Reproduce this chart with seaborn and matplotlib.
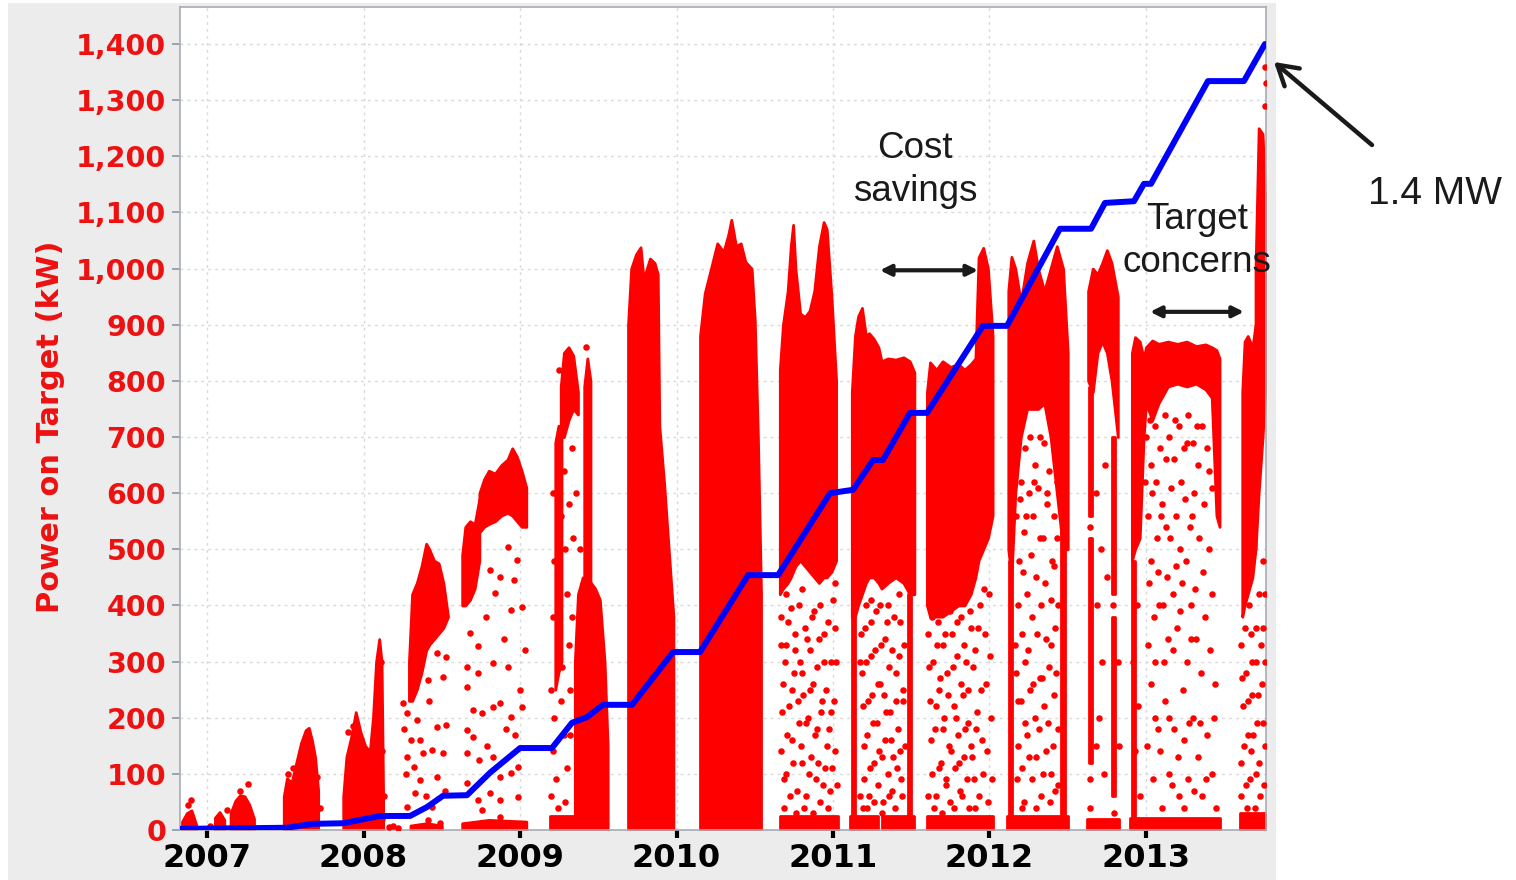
import numpy as np
import pandas as pd
import seaborn as sns
import matplotlib
matplotlib.use("Agg")
import matplotlib.pyplot as plt
from matplotlib.patches import Rectangle

sns.set_theme(style="white")
plt.rcParams["font.family"] = ["DejaVu Sans"]

# --- delivered power (blue line), years / kW ---
line_year = [2006.827, 2007.511, 2007.677, 2007.869, 2007.978, 2008.105, 2008.297, 2008.406,
             2008.508, 2008.661, 2008.808, 2009.000, 2009.204, 2009.332, 2009.428, 2009.530,
             2009.716, 2009.978, 2010.150, 2010.457, 2010.649, 2010.981, 2011.128, 2011.256,
             2011.319, 2011.492, 2011.601, 2011.958, 2012.112, 2012.450, 2012.649, 2012.738,
             2012.923, 2012.987, 2013.032, 2013.396, 2013.626, 2013.760]
line_kw = [2, 4, 11, 12, 18, 25, 25, 41, 61, 62, 102, 146, 146, 191, 201, 223, 223, 317, 317,
           454, 454, 600, 606, 659, 659, 743, 743, 898, 898, 1071, 1071, 1117, 1120, 1151, 1151,
           1334, 1334, 1400]

# --- dense parts of the power-on-target record: (years, lower kW, upper kW) ---
band_2007a = ([2006.84, 2006.87, 2006.90, 2006.93], [0, 0, 0, 0], [15, 30, 35, 10])
band_2007b = ([2007.05, 2007.08, 2007.11], [0, 0, 0], [22, 32, 18])
band_2007c = ([2007.15, 2007.18, 2007.21, 2007.24, 2007.27, 2007.30], [0, 0, 0, 0, 0, 0],
              [30, 52, 62, 60, 45, 20])
band_2007d = ([2007.49, 2007.51, 2007.54, 2007.57, 2007.60, 2007.63, 2007.65, 2007.67, 2007.69, 2007.71],
              [0, 0, 0, 0, 0, 0, 0, 0, 0, 0], [60, 92, 85, 120, 155, 178, 182, 160, 130, 70])
band_2008a = ([2007.87, 2007.89, 2007.92, 2007.95, 2007.98, 2008.01, 2008.04, 2008.06, 2008.08, 2008.10, 2008.115, 2008.125],
              [0, 0, 0, 0, 0, 0, 0, 0, 0, 0, 0, 0], [60, 130, 165, 210, 175, 150, 140, 200, 300, 340, 300, 60])
band_2008b = ([2008.29, 2008.31, 2008.34, 2008.37, 2008.40, 2008.42, 2008.45, 2008.48, 2008.51, 2008.54],
              [230, 230, 250, 280, 320, 330, 340, 350, 360, 380], [300, 420, 440, 470, 510, 500, 480, 475, 440, 380])
band_2008c = ([2008.30, 2008.40, 2008.50], [0, 0, 0], [8, 12, 8])
band_2008d = ([2008.63, 2008.65, 2008.68, 2008.71, 2008.74], [400, 400, 410, 430, 480], [490, 540, 550, 545, 590])
band_2008e = ([2008.74, 2008.77, 2008.80, 2008.84, 2008.88, 2008.92, 2008.95, 2008.98, 2009.01, 2009.04],
              [530, 540, 545, 550, 560, 565, 560, 550, 540, 540], [600, 625, 640, 635, 650, 660, 680, 665, 640, 610])
band_2008f = ([2008.63, 2008.80, 2009.04], [0, 0, 0], [12, 18, 15])
band_2009a = ([2009.26, 2009.28, 2009.31, 2009.34, 2009.37], [700, 700, 730, 750, 740], [790, 850, 860, 845, 780])
band_2009b = ([2009.225, 2009.245, 2009.265], [250, 280, 300], [690, 720, 720])
band_2009c = ([2009.41, 2009.43, 2009.45], [440, 440, 440], [790, 840, 800])
band_2009d = ([2009.35, 2009.37, 2009.40, 2009.44, 2009.48, 2009.51, 2009.54, 2009.56],
              [0, 0, 0, 0, 0, 0, 0, 0], [300, 420, 450, 445, 430, 410, 300, 150])
band_2009e = ([2009.19, 2009.35], [0, 0], [25, 25])
band_2009f = ([2009.69, 2009.71, 2009.74, 2009.77, 2009.79, 2009.81, 2009.83, 2009.86, 2009.88, 2009.89, 2009.92, 2009.95, 2009.98],
              [0, 0, 0, 0, 0, 0, 0, 0, 0, 0, 0, 0, 0], [900, 1000, 1025, 1038, 980, 1000, 1018, 1010, 990, 720, 620, 500, 380])
band_2010a = ([2010.15, 2010.18, 2010.22, 2010.26, 2010.30, 2010.33, 2010.35, 2010.38, 2010.41, 2010.44, 2010.48, 2010.50, 2010.52, 2010.54],
              [0, 0, 0, 0, 0, 0, 0, 0, 0, 0, 0, 0, 0, 0], [880, 956, 1000, 1045, 1030, 1060, 1087, 1040, 1045, 1012, 1000, 908, 700, 420])
band_2010b = ([2010.66, 2010.68, 2010.71, 2010.73, 2010.745, 2010.76, 2010.79, 2010.82, 2010.85, 2010.88, 2010.91, 2010.94, 2010.96, 2010.99, 2011.02],
              [420, 430, 440, 450, 460, 470, 480, 470, 460, 450, 440, 450, 450, 460, 480],
              [820, 900, 960, 1040, 1078, 1000, 920, 914, 925, 960, 1040, 1083, 1070, 950, 800])
band_2010c = ([2010.66, 2011.03], [0, 0], [25, 25])
band_2011a = ([2011.12, 2011.14, 2011.16, 2011.185, 2011.21, 2011.23, 2011.26, 2011.29, 2011.31, 2011.35, 2011.40, 2011.45, 2011.49, 2011.52],
              [380, 380, 400, 420, 440, 450, 450, 440, 430, 440, 450, 440, 420, 420],
              [780, 880, 915, 930, 880, 885, 875, 860, 835, 840, 838, 842, 835, 815])
band_2011b = ([2011.12, 2011.14], [0, 0], [380, 380])
band_2011c = ([2011.48, 2011.50], [0, 0], [420, 420])
band_2011d = ([2011.11, 2011.29], [0, 0], [25, 25])
band_2011e = ([2011.31, 2011.52], [0, 0], [25, 25])
band_2011f = ([2011.60, 2011.62, 2011.66, 2011.70, 2011.75, 2011.80, 2011.84, 2011.88, 2011.91, 2011.93, 2011.96, 2011.99, 2012.02],
              [400, 380, 380, 380, 390, 400, 400, 420, 450, 480, 500, 520, 560],
              [780, 833, 820, 835, 825, 830, 820, 830, 840, 1020, 1037, 1000, 880])
band_2011g = ([2011.60, 2012.02], [0, 0], [25, 25])
band_2012a = ([2012.12, 2012.14, 2012.165, 2012.20, 2012.24, 2012.28, 2012.31, 2012.35, 2012.39, 2012.43, 2012.47, 2012.50],
              [500, 450, 600, 700, 750, 750, 750, 760, 700, 600, 500, 500],
              [960, 1021, 1000, 940, 1010, 1050, 1000, 960, 1000, 1040, 1000, 850])
band_2012b = ([2012.125, 2012.145], [0, 0], [480, 480])
band_2012c = ([2012.46, 2012.48], [0, 0], [580, 580])
band_2012d = ([2012.11, 2012.50], [0, 0], [25, 25])
band_2012e = ([2012.63, 2012.66, 2012.69, 2012.72, 2012.75, 2012.78, 2012.82],
              [800, 780, 850, 870, 850, 800, 700], [960, 1000, 990, 1010, 1033, 1010, 950])
band_2012f = ([2012.635, 2012.655], [560, 560], [790, 790])
band_2012g = ([2012.635, 2012.655], [120, 120], [520, 520])
band_2012h = ([2012.785, 2012.80], [420, 420], [700, 700])
band_2012i = ([2012.785, 2012.80], [60, 60], [380, 380])
band_2012j = ([2012.62, 2012.83], [0, 0], [20, 20])
band_2013a = ([2012.91, 2012.93, 2012.96, 2012.985, 2013.00, 2013.04, 2013.08, 2013.14, 2013.20, 2013.26, 2013.32, 2013.38, 2013.42, 2013.45, 2013.47],
              [480, 500, 520, 700, 760, 730, 760, 790, 795, 790, 795, 785, 770, 560, 540],
              [850, 878, 870, 840, 860, 872, 866, 870, 866, 870, 862, 865, 860, 855, 840])
band_2013b = ([2012.91, 2012.93], [0, 0], [480, 480])
band_2013c = ([2012.90, 2013.47], [0, 0], [22, 22])
band_2013d = ([2013.615, 2013.63, 2013.65, 2013.68, 2013.70], [380, 400, 420, 450, 500], [780, 870, 880, 860, 900])
band_2013e = ([2013.70, 2013.72, 2013.745, 2013.765], [500, 600, 700, 800], [1000, 1250, 1240, 1100])
band_2013f = ([2013.60, 2013.765], [0, 0], [30, 30])

bands = [band_2007a, band_2007b, band_2007c, band_2007d, band_2008a, band_2008b, band_2008c,
         band_2008d, band_2008e, band_2008f, band_2009a, band_2009b, band_2009c, band_2009d,
         band_2009e, band_2009f, band_2010a, band_2010b, band_2010c, band_2011a, band_2011b,
         band_2011c, band_2011d, band_2011e, band_2011f, band_2011g, band_2012a, band_2012b,
         band_2012c, band_2012d, band_2012e, band_2012f, band_2012g, band_2012h, band_2012i,
         band_2012j, band_2013a, band_2013b, band_2013c, band_2013d, band_2013e, band_2013f]

# --- scattered single readings (year, kW) ---
pts_2007 = [(2006.90, 53), (2006.88, 44), (2007.26, 82), (2007.21, 70), (2007.02, 8), (2007.13, 35),
            (2007.55, 110), (2007.52, 100), (2007.70, 95), (2007.72, 40), (2007.60, 10),
            (2008.11, 300), (2008.10, 200), (2008.12, 140), (2008.13, 60), (2008.12, 20),
            (2007.90, 175), (2007.93, 185), (2008.16, 5), (2008.19, 8), (2008.22, 4)]
pts_2008 = [(2008.25, 226), (2008.28, 208), (2008.34, 196), (2008.36, 160), (2008.47, 183), (2008.53, 187),
            (2008.28, 130), (2008.32, 112), (2008.38, 137), (2008.44, 142), (2008.51, 137), (2008.36, 89),
            (2008.47, 94), (2008.33, 66), (2008.44, 41), (2008.28, 41), (2008.41, 18), (2008.49, 12),
            (2008.47, 315), (2008.53, 308), (2008.51, 272), (2008.41, 267), (2008.26, 180), (2008.30, 160),
            (2008.40, 60), (2008.52, 70), (2008.27, 100), (2008.42, 230),
            (2008.68, 351), (2008.73, 327), (2008.66, 290), (2008.73, 279), (2008.83, 297), (2008.92, 290),
            (2008.66, 255), (2008.70, 214), (2008.76, 208), (2008.83, 219), (2008.87, 226), (2008.94, 201),
            (2009.00, 249), (2009.01, 219), (2008.66, 178), (2008.70, 166), (2008.66, 137), (2008.74, 125),
            (2008.83, 130), (2008.87, 94), (2008.94, 101), (2008.99, 112), (2008.66, 84), (2008.73, 53),
            (2008.81, 66), (2008.87, 53), (2008.99, 59), (2008.76, 36), (2008.87, 23), (2008.81, 463),
            (2008.87, 451), (2008.96, 445), (2009.01, 397), (2008.94, 392), (2008.84, 422), (2008.92, 504),
            (2008.98, 481), (2008.78, 380), (2008.90, 340), (2009.03, 320), (2008.97, 170), (2008.79, 150),
            (2008.91, 180)]
pts_2009 = [(2009.20, 250), (2009.22, 200), (2009.21, 140), (2009.23, 90), (2009.20, 60), (2009.26, 230),
            (2009.28, 170), (2009.30, 110), (2009.29, 50), (2009.32, 250), (2009.31, 330), (2009.30, 420),
            (2009.29, 500), (2009.31, 580), (2009.28, 640), (2009.33, 680), (2009.24, 40), (2009.27, 290),
            (2009.32, 170), (2009.33, 380), (2009.26, 560), (2009.21, 600), (2009.22, 480), (2009.21, 380),
            (2009.34, 520), (2009.36, 600), (2009.38, 500), (2009.42, 860), (2009.25, 820)]
pts_2010 = [(2010.67, 380), (2010.70, 330), (2010.73, 395), (2010.76, 350), (2010.79, 300), (2010.82, 360),
            (2010.85, 320), (2010.88, 390), (2010.91, 340), (2010.94, 300), (2010.97, 370), (2011.00, 410),
            (2010.68, 260), (2010.72, 220), (2010.75, 280), (2010.78, 190), (2010.81, 240), (2010.84, 200),
            (2010.87, 260), (2010.90, 180), (2010.93, 230), (2010.96, 150), (2010.99, 210), (2010.67, 140),
            (2010.70, 100), (2010.74, 160), (2010.77, 70), (2010.80, 120), (2010.83, 60), (2010.86, 130),
            (2010.89, 90), (2010.92, 50), (2010.95, 110), (2010.98, 70), (2011.01, 140), (2010.69, 40),
            (2011.02, 300)]
pts_2010b = [(2010.665, 330), (2010.675, 210), (2010.685, 90), (2010.695, 300), (2010.705, 170), (2010.715, 370),
             (2010.725, 60), (2010.735, 250), (2010.745, 120), (2010.755, 320), (2010.765, 30), (2010.775, 230),
             (2010.785, 400), (2010.795, 150), (2010.805, 280), (2010.815, 40), (2010.825, 190), (2010.835, 340),
             (2010.845, 100), (2010.855, 250), (2010.865, 380), (2010.875, 30), (2010.885, 170), (2010.895, 290),
             (2010.905, 120), (2010.915, 400), (2010.925, 210), (2010.935, 80), (2010.945, 350), (2010.955, 250),
             (2010.965, 40), (2010.975, 180), (2010.985, 300), (2010.995, 110), (2011.005, 230), (2011.015, 360),
             (2011.025, 80), (2011.01, 440), (2010.70, 420), (2010.80, 430)]
pts_2011 = [(2011.18, 350), (2011.21, 300), (2011.24, 370), (2011.27, 320), (2011.30, 260), (2011.33, 340),
            (2011.36, 290), (2011.39, 380), (2011.42, 310), (2011.45, 250), (2011.19, 220), (2011.22, 170),
            (2011.25, 240), (2011.28, 190), (2011.31, 130), (2011.34, 210), (2011.37, 160), (2011.40, 230),
            (2011.43, 140), (2011.20, 90), (2011.23, 60), (2011.26, 120), (2011.29, 80), (2011.32, 50),
            (2011.35, 100), (2011.38, 70), (2011.41, 110), (2011.44, 60), (2011.21, 400), (2011.35, 400),
            (2011.61, 350), (2011.64, 300), (2011.67, 370), (2011.70, 330), (2011.73, 280), (2011.76, 350),
            (2011.79, 310), (2011.82, 380), (2011.85, 300), (2011.88, 360), (2011.91, 320), (2011.94, 400),
            (2011.97, 350), (2012.00, 420), (2011.62, 230), (2011.65, 180), (2011.68, 250), (2011.71, 200),
            (2011.74, 150), (2011.77, 220), (2011.80, 170), (2011.83, 240), (2011.86, 190), (2011.89, 130),
            (2011.92, 210), (2011.95, 160), (2011.98, 260), (2012.01, 200), (2011.63, 100), (2011.66, 60),
            (2011.69, 120), (2011.72, 80), (2011.75, 50), (2011.78, 110), (2011.81, 70), (2011.84, 130),
            (2011.87, 40), (2011.90, 90), (2011.93, 60), (2011.96, 100), (2011.99, 50)]
pts_2011b = [(2011.175, 60), (2011.185, 280), (2011.195, 150), (2011.205, 360), (2011.215, 40), (2011.225, 230),
             (2011.235, 110), (2011.245, 310), (2011.255, 190), (2011.265, 50), (2011.275, 390), (2011.285, 260),
             (2011.295, 140), (2011.305, 330), (2011.315, 30), (2011.325, 240), (2011.335, 160), (2011.345, 370),
             (2011.355, 60), (2011.365, 210), (2011.375, 320), (2011.385, 130), (2011.395, 40), (2011.405, 280),
             (2011.415, 180), (2011.425, 370), (2011.435, 90), (2011.445, 230), (2011.455, 330), (2011.46, 150),
             (2011.24, 410), (2011.30, 400), (2011.42, 420), (2011.19, 40), (2011.17, 300),
             (2011.605, 60), (2011.615, 290), (2011.625, 160), (2011.635, 380), (2011.645, 40), (2011.655, 220),
             (2011.665, 330), (2011.675, 110), (2011.685, 270), (2011.695, 30), (2011.705, 180), (2011.715, 350),
             (2011.725, 90), (2011.735, 240), (2011.745, 390), (2011.755, 140), (2011.765, 290), (2011.775, 40),
             (2011.785, 200), (2011.795, 370), (2011.805, 120), (2011.815, 260), (2011.825, 60), (2011.835, 330),
             (2011.845, 180), (2011.855, 90), (2011.865, 250), (2011.875, 390), (2011.885, 150), (2011.895, 290),
             (2011.905, 40), (2011.915, 180), (2011.925, 360), (2011.945, 250), (2011.965, 430), (2011.985, 140),
             (2012.005, 310), (2012.015, 90)]
pts_2012 = [(2012.17, 560), (2012.20, 620), (2012.23, 680), (2012.26, 700), (2012.29, 650), (2012.32, 700),
            (2012.35, 690), (2012.38, 640), (2012.41, 560), (2012.19, 480), (2012.22, 530), (2012.25, 600),
            (2012.28, 560), (2012.31, 610), (2012.34, 520), (2012.37, 580), (2012.40, 480), (2012.43, 520),
            (2012.18, 400), (2012.21, 350), (2012.24, 420), (2012.27, 380), (2012.30, 450), (2012.33, 400),
            (2012.36, 340), (2012.39, 410), (2012.42, 360), (2012.17, 280), (2012.20, 230), (2012.23, 300),
            (2012.26, 250), (2012.29, 200), (2012.32, 270), (2012.35, 220), (2012.38, 290), (2012.41, 240),
            (2012.44, 180), (2012.18, 150), (2012.21, 110), (2012.24, 170), (2012.27, 90), (2012.30, 130),
            (2012.33, 60), (2012.36, 140), (2012.39, 100), (2012.42, 70), (2012.22, 50),
            (2012.68, 600), (2012.71, 500), (2012.74, 650), (2012.69, 400), (2012.72, 300), (2012.70, 200),
            (2012.73, 100), (2012.75, 450), (2012.68, 150), (2012.82, 300), (2012.83, 150),
            (2012.645, 540), (2012.645, 90), (2012.64, 40), (2012.79, 400), (2012.795, 30)]
pts_2012b = [(2012.165, 330), (2012.175, 90), (2012.185, 230), (2012.195, 590), (2012.205, 40), (2012.215, 460),
             (2012.225, 190), (2012.235, 560), (2012.245, 320), (2012.255, 130), (2012.265, 490), (2012.275, 260),
             (2012.285, 620), (2012.295, 40), (2012.305, 350), (2012.315, 180), (2012.325, 520), (2012.335, 270),
             (2012.345, 100), (2012.355, 440), (2012.365, 600), (2012.375, 190), (2012.385, 50), (2012.395, 330),
             (2012.405, 150), (2012.415, 470), (2012.425, 280), (2012.435, 80), (2012.44, 400), (2012.43, 620)]
pts_2013 = [(2013.00, 700), (2013.03, 650), (2013.06, 720), (2013.09, 680), (2013.12, 740), (2013.15, 700),
            (2013.18, 660), (2013.21, 720), (2013.24, 680), (2013.27, 740), (2013.30, 690), (2013.33, 650),
            (2013.36, 720), (2013.39, 680), (2013.42, 610), (2013.01, 560), (2013.04, 600), (2013.07, 520),
            (2013.10, 580), (2013.13, 540), (2013.16, 610), (2013.19, 560), (2013.22, 500), (2013.25, 590),
            (2013.28, 540), (2013.31, 600), (2013.34, 520), (2013.37, 580), (2013.40, 500), (2013.02, 440),
            (2013.05, 380), (2013.08, 460), (2013.11, 400), (2013.14, 340), (2013.17, 420), (2013.20, 360),
            (2013.23, 440), (2013.26, 300), (2013.29, 400), (2013.32, 340), (2013.35, 280), (2013.38, 380),
            (2013.41, 320), (2013.44, 260), (2012.94, 400), (2012.92, 300), (2012.95, 220), (2012.93, 140),
            (2012.96, 60), (2013.03, 260), (2013.06, 200), (2013.09, 140), (2013.12, 230), (2013.15, 100),
            (2013.18, 180), (2013.21, 60), (2013.24, 160), (2013.27, 90), (2013.30, 200), (2013.33, 130),
            (2013.36, 60), (2013.39, 170), (2013.42, 100), (2013.45, 40),
            (2013.61, 330), (2013.64, 280), (2013.67, 350), (2013.70, 300), (2013.62, 220), (2013.65, 170),
            (2013.68, 240), (2013.71, 190), (2013.74, 260), (2013.61, 120), (2013.64, 80), (2013.67, 140),
            (2013.70, 100), (2013.73, 60), (2013.76, 150), (2013.75, 360), (2013.76, 420),
            (2013.76, 1290), (2013.765, 1330), (2013.76, 1360)]
pts_2013b = [(2012.995, 620), (2013.005, 150), (2013.015, 330), (2013.025, 730), (2013.035, 480), (2013.045, 90),
             (2013.055, 300), (2013.065, 620), (2013.075, 180), (2013.085, 400), (2013.095, 560), (2013.105, 40),
             (2013.115, 300), (2013.125, 660), (2013.135, 450), (2013.145, 200), (2013.155, 520), (2013.165, 80),
             (2013.175, 320), (2013.185, 730), (2013.195, 470), (2013.205, 130), (2013.215, 390), (2013.225, 620),
             (2013.235, 250), (2013.245, 40), (2013.255, 480), (2013.265, 690), (2013.275, 190), (2013.285, 340),
             (2013.295, 560), (2013.305, 70), (2013.315, 430), (2013.325, 720), (2013.345, 190), (2013.365, 460),
             (2013.385, 90), (2013.405, 640), (2013.425, 420), (2013.435, 200),
             (2013.605, 60), (2013.615, 270), (2013.625, 150), (2013.635, 360), (2013.645, 40), (2013.655, 230),
             (2013.665, 90), (2013.675, 300), (2013.685, 170), (2013.695, 40), (2013.705, 360), (2013.715, 240),
             (2013.725, 120), (2013.735, 330), (2013.745, 190), (2013.755, 80), (2013.76, 300), (2013.75, 480),
             (2013.72, 420), (2013.66, 400)]

year_ticks = [2007, 2008, 2009, 2010, 2011, 2012, 2013]
kw_ticks = list(range(0, 1500, 100))
kw_tick_labels = [f"{v:,}" for v in kw_ticks]

RED = "#ff0000"
RED_TEXT = "#ee1111"
INK = "#1a1a1a"
W, H = 1516, 880

fig = plt.figure(figsize=(W / 100, H / 100), dpi=100, facecolor="white")
fig.patches.append(Rectangle((8 / W, 0), (1276 - 8) / W, (H - 3) / H, transform=fig.transFigure,
                             facecolor="#ececec", edgecolor="none", zorder=-10))
ax = fig.add_axes([180 / W, 50 / H, 1086 / W, 823 / H])
ax.set_zorder(1)
ax.set_facecolor("white")

for xs, lo, hi in bands:
    ax.fill_between(xs, lo, hi, color=RED, lw=2, zorder=2)

all_pts = pts_2007 + pts_2008 + pts_2009 + pts_2010 + pts_2010b + pts_2011 + pts_2011b \
    + pts_2012 + pts_2012b + pts_2013 + pts_2013b
points = pd.DataFrame(all_pts, columns=["year", "kw"])
sns.scatterplot(data=points, x="year", y="kw", color=RED, s=22, linewidth=0, ax=ax, zorder=3)
sns.lineplot(x=line_year, y=line_kw, color="#0000ff", lw=4.3, sort=False, estimator=None,
             ax=ax, zorder=4, solid_capstyle="round")

ax.set_xlim(2006.827, 2013.767)
ax.set_ylim(0, 1466)
ax.set_xticks(year_ticks)
ax.set_xticklabels([str(y) for y in year_ticks], fontsize=23, fontweight="bold", color="black")
ax.set_yticks(kw_ticks)
ax.set_yticklabels(kw_tick_labels, fontsize=20.5, fontweight="bold", color=RED_TEXT)
ax.tick_params(axis="x", direction="out", length=6, width=3, color="black", pad=3, bottom=True)
ax.tick_params(axis="y", direction="out", length=6, width=1.2, color="#8a96aa", pad=4, left=True)
ax.set_xlabel("")
ax.set_ylabel("Power on Target (kW)", fontsize=22, fontweight="bold", color=RED_TEXT)
ax.yaxis.set_label_coords(-0.106, 0.49)
ax.grid(True, linestyle=(0, (2, 3)), color="#d9d9d9", lw=1)
ax.set_axisbelow(True)
for side in ["left", "right", "top", "bottom"]:
    ax.spines[side].set_color("#a8acb4")
    ax.spines[side].set_linewidth(1.2)

# annotations
ax.text(2011.524, 1176, "Cost\nsavings", ha="center", va="center", fontsize=26.5,
        family="Liberation Sans", color=INK, linespacing=1.3, zorder=5)
ax.annotate("", xy=(2011.927, 997), xytext=(2011.300, 997),
            arrowprops=dict(arrowstyle="<|-|>", color=INK, lw=3, mutation_scale=16, shrinkA=0, shrinkB=0))
ax.text(2013.326, 1049, "Target\nconcerns", ha="center", va="center", fontsize=26.5,
        family="Liberation Sans", color=INK, linespacing=1.3, zorder=5, clip_on=False)
ax.annotate("", xy=(2013.626, 923), xytext=(2013.026, 923),
            arrowprops=dict(arrowstyle="<|-|>", color=INK, lw=3, mutation_scale=16, shrinkA=0, shrinkB=0))
fig.text(1435 / W, 1 - 194 / H, "1.4 MW", ha="center", va="center", fontsize=28,
         family="Liberation Sans", color=INK)
ax.annotate("", xy=(1274 / W, 1 - 62 / H), xycoords="figure fraction",
            xytext=(1372 / W, 1 - 145 / H), textcoords="figure fraction",
            arrowprops=dict(arrowstyle="->,head_length=0.5,head_width=0.3", color=INK, lw=3.2,
                            mutation_scale=28, shrinkA=0, shrinkB=0))

fig.savefig("out.png", dpi=100, facecolor="white")
